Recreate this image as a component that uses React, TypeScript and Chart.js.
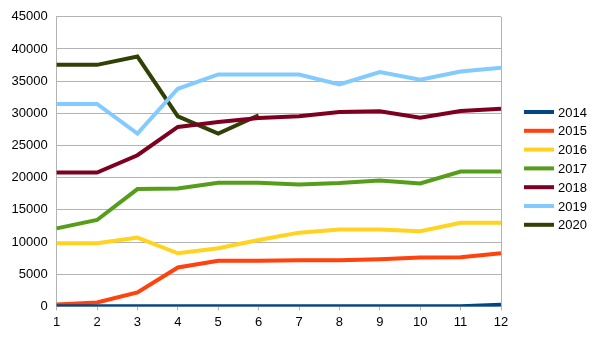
import React, { useEffect, useRef } from "react";
import { Chart, registerables } from "chart.js";

Chart.register(...registerables);

const months = ["1", "2", "3", "4", "5", "6", "7", "8", "9", "10", "11", "12"];
const seriesNames = ["2014", "2015", "2016", "2017", "2018", "2019", "2020"];
const seriesColors = ["#004586", "#ff420e", "#ffd320", "#579d1c", "#7e0021", "#83caff", "#314004"];

const v2014 = [10, 20, 30, 30, 30, 30, 30, 30, 30, 30, 40, 250];
const v2015 = [300, 600, 2170, 6040, 7080, 7080, 7170, 7170, 7330, 7590, 7640, 8260];
const v2016 = [9810, 9810, 10690, 8260, 9030, 10330, 11460, 11930, 11930, 11670, 13010, 13010];
const v2017 = [12130, 13430, 18230, 18330, 19210, 19210, 18950, 19160, 19570, 19100, 20960, 20960];
const v2018 = [20800, 20800, 23490, 27880, 28660, 29280, 29540, 30200, 30310, 29330, 30360, 30720];
const v2019 = [31450, 31450, 26850, 33820, 36040, 36040, 36040, 34490, 36400, 35210, 36500, 37070];
const v2020 = [37530, 37530, 38830, 29540, 26850, 29700, null, null, null, null, null, null];

const seriesValues = [v2014, v2015, v2016, v2017, v2018, v2019, v2020];

const yTicks = { min: 0, max: 45000, step: 5000 };

const FONT = "'Liberation Sans', Arial, sans-serif";

export default function App() {
  const ref = useRef<HTMLCanvasElement | null>(null);

  useEffect(() => {
    const canvas = ref.current;
    if (!canvas) return;

    const legendPlugin = {
      id: "customLegend",
      afterDraw(chart: any) {
        const ctx = chart.ctx;
        ctx.save();
        ctx.font = `13px ${FONT}`;
        ctx.textBaseline = "middle";
        ctx.textAlign = "left";
        const x0 = 524;
        const yStart = 112;
        const gap = 18.8;
        chart.data.datasets.forEach((ds: any, i: number) => {
          const y = yStart + i * gap;
          ctx.fillStyle = ds.borderColor;
          ctx.fillRect(x0, y - 2, 30, 4);
          ctx.fillStyle = "#000";
          ctx.fillText(ds.label, x0 + 34, y + 1);
        });
        ctx.restore();
      },
    };

    const chart = new Chart(canvas, {
      type: "line",
      data: {
        labels: months,
        datasets: seriesNames.map((name, i) => ({
          label: name,
          data: seriesValues[i],
          borderColor: seriesColors[i],
          backgroundColor: seriesColors[i],
          borderWidth: 4,
          pointRadius: 0,
          tension: 0,
          spanGaps: false,
        })),
      },
      options: {
        animation: false,
        responsive: false,
        layout: { padding: { top: 6.5, right: 97, bottom: 3, left: 2.5 } },
        plugins: {
          legend: { display: false },
          tooltip: { enabled: false },
        },
        scales: {
          x: {
            offset: false,
            grid: {
              color: (c: any) => (c.index === months.length - 1 ? "#b3b3b3" : "rgba(0,0,0,0)"),
              tickColor: "#b3b3b3",
              tickLength: 4,
              drawTicks: true,
            },
            border: { color: "#b3b3b3" },
            ticks: { color: "#000", font: { family: FONT, size: 13 }, padding: 4, maxRotation: 0 },
          },
          y: {
            min: yTicks.min,
            max: yTicks.max,
            grid: { color: "#b3b3b3", drawTicks: false },
            border: { color: "#b3b3b3" },
            ticks: {
              stepSize: yTicks.step,
              color: "#000",
              font: { family: FONT, size: 13 },
              padding: 9,
              callback: (v: any) => String(v),
            },
          },
        },
      },
      plugins: [legendPlugin],
    });

    return () => chart.destroy();
  }, []);

  return (
    <div style={{ position: "fixed", left: 0, top: 0, width: 598, height: 337, background: "#fff" }}>
      <canvas ref={ref} width={598} height={337} style={{ display: "block" }} />
    </div>
  );
}
